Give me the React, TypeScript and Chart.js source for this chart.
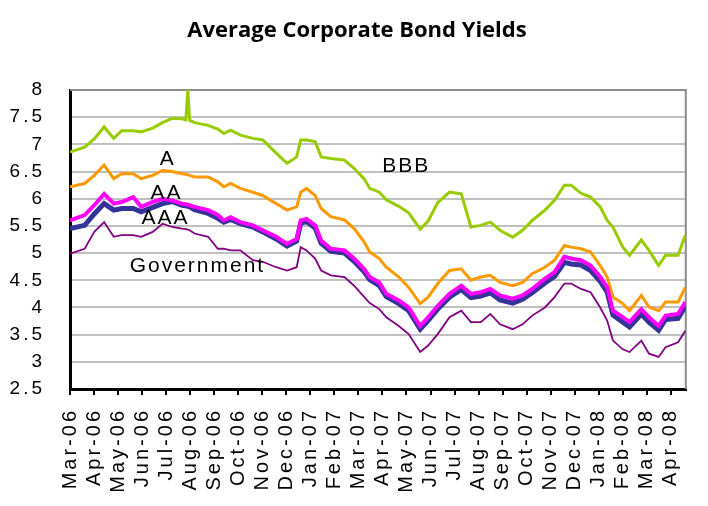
import { useEffect, useRef } from "react";
import { Chart, registerables } from "chart.js";

Chart.register(...registerables);

const chartTitle = "Average Corporate Bond Yields";

const monthLabels = [
  "Mar-06", "Apr-06", "May-06", "Jun-06", "Jul-06", "Aug-06", "Sep-06", "Oct-06", "Nov-06", "Dec-06",
  "Jan-07", "Feb-07", "Mar-07", "Apr-07", "May-07", "Jun-07", "Jul-07", "Aug-07", "Sep-07", "Oct-07",
  "Nov-07", "Dec-07", "Jan-08", "Feb-08", "Mar-08", "Apr-08",
];

// x position of each observation, in months since the start of Mar-06
const months = [
  0, 0.61, 1.01, 1.42, 1.82, 2.15, 2.63, 2.96, 3.44, 3.85, 4.25, 4.66, 4.82, 4.9, 4.98, 5.18, 5.75,
  6.15, 6.4, 6.68, 7.09, 7.61, 8.02, 8.58, 9.03, 9.43, 9.6, 9.84, 10.2, 10.45, 10.85, 11.42, 11.82,
  12.23, 12.47, 12.87, 13.16, 13.68, 14.09, 14.57, 14.9, 15.3, 15.79, 16.28, 16.68, 17.09, 17.49,
  17.89, 18.42, 18.83, 19.23, 19.76, 20.16, 20.57, 20.85, 21.26, 21.66, 22.06, 22.35, 22.59, 23.0,
  23.28, 23.77, 24.09, 24.49, 24.78, 25.3, 25.6,
];

const bbb = [
  6.86, 6.95, 7.1, 7.32, 7.11, 7.25, 7.25, 7.23, 7.3, 7.4, 7.48, 7.47, 7.45, 8.0, 7.44, 7.4, 7.35,
  7.28, 7.2, 7.26, 7.17, 7.11, 7.08, 6.84, 6.65, 6.77, 7.08, 7.08, 7.05, 6.77, 6.74, 6.71, 6.56,
  6.37, 6.19, 6.12, 5.98, 5.86, 5.74, 5.44, 5.59, 5.93, 6.12, 6.09, 5.48, 5.51, 5.57,
  5.42, 5.29, 5.42, 5.6, 5.79, 5.97, 6.25, 6.25, 6.1, 6.03, 5.85, 5.6, 5.48, 5.11,
  4.96, 5.24, 5.05, 4.77, 4.96, 4.96, 5.33,
];

const ratingA = [
  6.22, 6.28, 6.43, 6.62, 6.37, 6.46, 6.46, 6.37, 6.43, 6.52, 6.5, 6.46, 6.45, 6.44, 6.43, 6.4, 6.4,
  6.31, 6.22, 6.28, 6.19, 6.12, 6.06, 5.91, 5.79, 5.85, 6.12, 6.19, 6.06, 5.82, 5.67, 5.61, 5.45,
  5.21, 5.02, 4.9, 4.74, 4.56, 4.37, 4.07, 4.19, 4.44, 4.68, 4.71, 4.5, 4.56, 4.59,
  4.46, 4.4, 4.46, 4.62, 4.74, 4.87, 5.14, 5.11, 5.08, 5.02, 4.77, 4.56, 4.19, 4.07,
  3.94, 4.22, 4.01, 3.94, 4.1, 4.1, 4.37,
];

const ratingAA = [
  5.6, 5.7, 5.88, 6.09, 5.91, 5.94, 6.03, 5.85, 5.94, 6.0, 5.97, 5.91, 5.9, 5.89, 5.88, 5.85, 5.79,
  5.7, 5.6, 5.66, 5.57, 5.51, 5.42, 5.3, 5.17, 5.26, 5.6, 5.63, 5.51, 5.23, 5.08, 5.05, 4.9,
  4.71, 4.56, 4.46, 4.25, 4.13, 4.0, 3.66, 3.82, 4.03, 4.25, 4.4, 4.25, 4.28, 4.34,
  4.22, 4.16, 4.22, 4.34, 4.53, 4.65, 4.93, 4.9, 4.87, 4.77, 4.56, 4.37, 3.94, 3.82,
  3.73, 3.97, 3.82, 3.66, 3.85, 3.88, 4.1,
];

const ratingAAA = [
  5.45, 5.51, 5.72, 5.91, 5.79, 5.82, 5.82, 5.76, 5.84, 5.91, 5.95, 5.88, 5.87, 5.86, 5.85, 5.8, 5.73,
  5.64, 5.57, 5.62, 5.54, 5.48, 5.39, 5.26, 5.13, 5.22, 5.55, 5.58, 5.46, 5.18, 5.03, 5.0, 4.85,
  4.66, 4.51, 4.4, 4.2, 4.07, 3.94, 3.6, 3.76, 3.97, 4.19, 4.33, 4.18, 4.21, 4.27,
  4.14, 4.08, 4.15, 4.27, 4.45, 4.57, 4.83, 4.8, 4.78, 4.68, 4.48, 4.28, 3.86, 3.73,
  3.64, 3.88, 3.73, 3.58, 3.78, 3.8, 4.02,
];

const government = [
  4.99, 5.08, 5.39, 5.57, 5.3, 5.33, 5.33, 5.3, 5.39, 5.54, 5.48, 5.45, 5.44, 5.43, 5.42, 5.36, 5.3,
  5.08, 5.08, 5.05, 5.05, 4.87, 4.84, 4.74, 4.68, 4.74, 5.11, 5.05, 4.9, 4.68, 4.59, 4.56, 4.4,
  4.2, 4.08, 3.97, 3.82, 3.66, 3.51, 3.18, 3.3, 3.51, 3.82, 3.94, 3.73, 3.73, 3.88,
  3.69, 3.6, 3.69, 3.85, 4.0, 4.19, 4.44, 4.44, 4.34, 4.28, 4.0, 3.76, 3.39, 3.23,
  3.18, 3.39, 3.15, 3.09, 3.27, 3.36, 3.57,
];

const seriesNames = ["BBB", "A", "AA", "AAA", "Government"];
const seriesColors = ["#99CC00", "#FF9900", "#FF00FF", "#333399", "#800080"];
const seriesWidths = [3, 3, 4, 5, 1.8];

const labelTexts = ["A", "AA", "AAA", "Government", "BBB"];
const labelMonths = [4.03, 3.97, 3.93, 5.26, 13.95];
const labelValues = [6.72, 6.11, 5.64, 4.76, 6.6];

const yMin = 2.5;
const yMax = 8;
const xMax = 25.62;

const textPlugin = {
  id: "textPlugin",
  beforeDraw(chart: any) {
    // tick labels of the original are widely letter-spaced
    chart.ctx.letterSpacing = "3px";
  },
  beforeDatasetsDraw(chart: any) {
    const { ctx, chartArea } = chart;
    ctx.save();
    ctx.strokeStyle = "#8C8C8C";
    ctx.lineWidth = 2;
    ctx.beginPath();
    ctx.moveTo(chartArea.left, chartArea.top);
    ctx.lineTo(chartArea.right, chartArea.top);
    ctx.lineTo(chartArea.right, chartArea.bottom);
    ctx.stroke();
    ctx.restore();
  },
  afterDatasetsDraw(chart: any) {
    const { ctx, scales } = chart;
    ctx.save();
    ctx.letterSpacing = "2px";
    ctx.fillStyle = "#000";
    ctx.font = '21px "Liberation Sans"';
    ctx.textAlign = "center";
    ctx.textBaseline = "middle";
    labelTexts.forEach((t, i) => {
      ctx.fillText(t, scales.x.getPixelForValue(labelMonths[i]) + 1, scales.y.getPixelForValue(labelValues[i]));
    });
    ctx.restore();
  },
  afterDraw(chart: any) {
    const { ctx } = chart;
    ctx.save();
    ctx.letterSpacing = "0px";
    ctx.fillStyle = "#000";
    ctx.font = 'bold 22px "Open Sans"';
    ctx.textAlign = "center";
    ctx.textBaseline = "middle";
    ctx.fillText(chartTitle, 357, 31);
    ctx.restore();
    ctx.letterSpacing = "0px";
  },
};

export default function App() {
  const ref = useRef<HTMLCanvasElement>(null);
  useEffect(() => {
    document.body.style.margin = "0";
    const allSeries = [bbb, ratingA, ratingAA, ratingAAA, government];
    const orders = [3, 2, 1, 4, 5];
    const datasets = allSeries.map((arr, i) => ({
      label: seriesNames[i],
      data: months.map((m, j) => ({ x: m, y: arr[j] })),
      borderColor: seriesColors[i],
      backgroundColor: seriesColors[i],
      borderWidth: seriesWidths[i],
      pointRadius: 0,
      tension: 0,
      fill: false,
      order: orders[i],
    }));
    const chart = new Chart(ref.current as HTMLCanvasElement, {
      type: "line",
      data: { datasets },
      plugins: [textPlugin],
      options: {
        animation: false,
        responsive: false,
        devicePixelRatio: 1,
        layout: { padding: { left: 0, right: 5, top: 90, bottom: 0 } },
        plugins: {
          legend: { display: false },
          tooltip: { enabled: false },
          title: { display: false },
        },
        scales: {
          x: {
            type: "linear",
            min: 0,
            max: xMax,
            afterBuildTicks(scale: any) {
              scale.ticks = monthLabels.map((_, i) => ({ value: i }));
            },
            afterFit(scale: any) {
              scale.height = 117;
            },
            ticks: {
              autoSkip: false,
              minRotation: 90,
              maxRotation: 90,
              padding: 13,
              color: "#000",
              font: { family: '"Liberation Sans"', size: 20 },
              callback: (v: any) => monthLabels[Math.round(Number(v))] ?? "",
            },
            grid: {
              drawOnChartArea: false,
              drawTicks: true,
              tickLength: 6,
              tickColor: "#000",
              tickWidth: 2,
              lineWidth: 2,
            },
            border: { display: true, color: "#000", width: 3 },
          },
          y: {
            min: yMin,
            max: yMax,
            afterFit(scale: any) {
              scale.width = 70;
            },
            ticks: {
              stepSize: 0.5,
              padding: 25,
              color: "#000",
              font: { family: '"Liberation Sans"', size: 19 },
              callback: (v: any) => String(Math.round(Number(v) * 10) / 10),
            },
            grid: {
              color: "#C0C0C0",
              lineWidth: 2,
              drawTicks: false,
            },
            border: { display: true, color: "#000", width: 3 },
          },
        },
      },
    });
    return () => chart.destroy();
  }, []);
  return (
    <div style={{ position: "fixed", left: 0, top: 0, width: 708, height: 506, background: "#fff" }}>
      <canvas ref={ref} width={708} height={506} style={{ display: "block", width: 708, height: 506 }} />
    </div>
  );
}
